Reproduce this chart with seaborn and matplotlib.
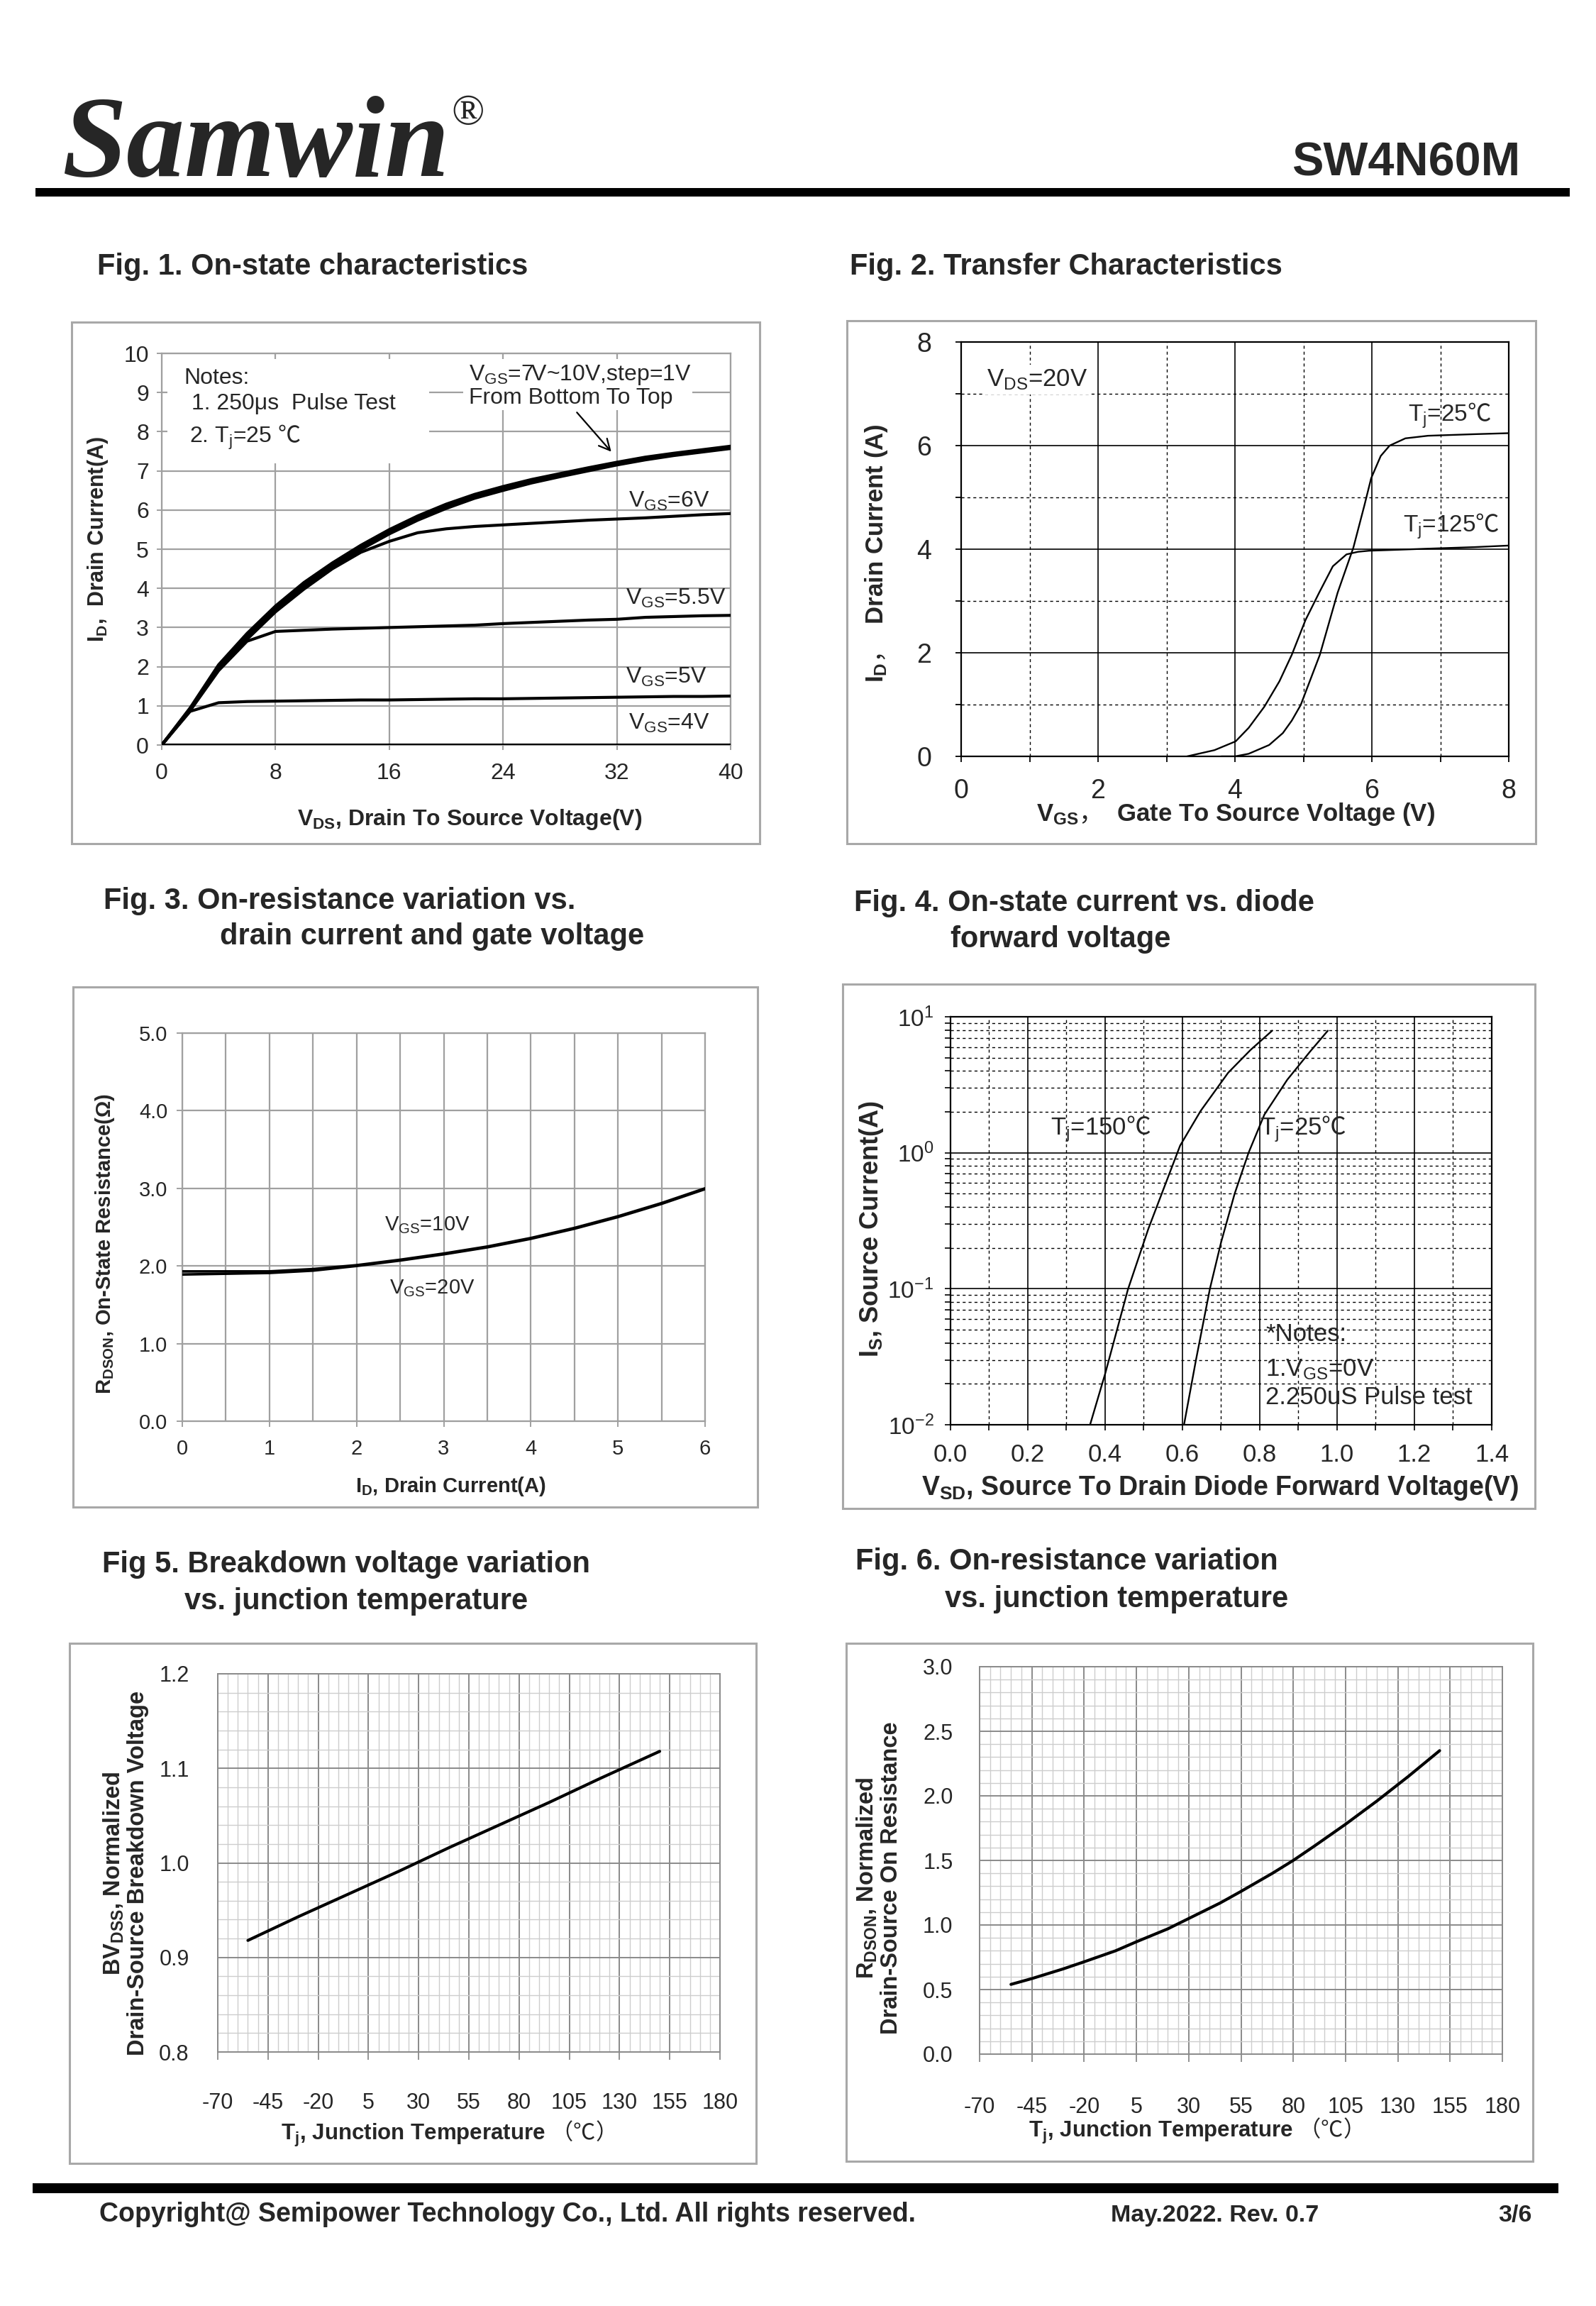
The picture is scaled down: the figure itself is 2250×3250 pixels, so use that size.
import numpy as np
import pandas as pd
import matplotlib
matplotlib.use('Agg')
import matplotlib.pyplot as plt
import seaborn as sns
from matplotlib.patches import Rectangle
from matplotlib.ticker import MultipleLocator, FixedLocator, NullFormatter, LogLocator

# --- Data ---
# Fig. 1 on-state characteristics
vds = [0, 2, 4, 6, 8, 10, 12, 14, 16, 18, 20, 22, 24, 26, 28, 30, 32, 34, 36, 38, 40]
id_10v = [0, 0.95, 2.05, 2.85, 3.55, 4.15, 4.65, 5.10, 5.50, 5.85, 6.15, 6.40, 6.60, 6.78, 6.93, 7.08, 7.22, 7.35, 7.45, 7.54, 7.63]
id_9v = [0, 0.93, 2.02, 2.82, 3.52, 4.12, 4.62, 5.07, 5.47, 5.82, 6.12, 6.37, 6.57, 6.75, 6.90, 7.05, 7.20, 7.33, 7.43, 7.52, 7.61]
id_8v = [0, 0.91, 1.98, 2.78, 3.48, 4.08, 4.58, 5.03, 5.43, 5.78, 6.08, 6.33, 6.53, 6.72, 6.87, 7.02, 7.17, 7.30, 7.41, 7.50, 7.59]
id_7v = [0, 0.89, 1.93, 2.72, 3.42, 4.03, 4.54, 4.99, 5.39, 5.74, 6.04, 6.30, 6.50, 6.69, 6.85, 7.00, 7.15, 7.28, 7.39, 7.48, 7.57]
id_6v = [0, 0.89, 1.93, 2.70, 3.40, 3.98, 4.50, 4.92, 5.20, 5.42, 5.52, 5.58, 5.62, 5.66, 5.70, 5.74, 5.77, 5.80, 5.84, 5.88, 5.91]
id_55v = [0, 0.88, 1.90, 2.65, 2.90, 2.93, 2.96, 2.98, 3.00, 3.02, 3.04, 3.06, 3.10, 3.13, 3.16, 3.19, 3.21, 3.26, 3.28, 3.30, 3.31]
id_5v = [0, 0.86, 1.08, 1.11, 1.12, 1.13, 1.14, 1.15, 1.15, 1.16, 1.17, 1.18, 1.18, 1.19, 1.20, 1.21, 1.22, 1.23, 1.24, 1.24, 1.25]
id_4v = [0, 0, 0, 0, 0, 0, 0, 0, 0, 0, 0, 0, 0, 0, 0, 0, 0, 0, 0, 0, 0]

# Fig. 2 transfer characteristics
vgs_25c = [3.8, 4.0, 4.2, 4.5, 4.7, 4.83, 4.96, 5.24, 5.5, 5.73, 5.89, 5.99, 6.13, 6.26, 6.49, 6.82, 7.49, 8.0]
id_25c = [0, 0.0, 0.05, 0.22, 0.45, 0.69, 0.99, 1.96, 3.16, 4.03, 4.84, 5.37, 5.80, 6.00, 6.14, 6.19, 6.22, 6.24]
vgs_125c = [3.3, 3.7, 4.01, 4.2, 4.43, 4.65, 4.83, 5.03, 5.23, 5.43, 5.63, 5.80, 5.96, 6.40, 6.82, 7.50, 8.0]
id_125c = [0, 0.12, 0.29, 0.55, 0.96, 1.45, 1.96, 2.63, 3.16, 3.67, 3.90, 3.95, 3.97, 3.99, 4.01, 4.04, 4.07]

# Fig. 3 on-resistance vs drain current
id_r = [0, 0.5, 1, 1.5, 2, 2.5, 3, 3.5, 4, 4.5, 5, 5.5, 6]
rds_10v = [1.93, 1.93, 1.93, 1.96, 2.01, 2.08, 2.16, 2.25, 2.36, 2.49, 2.64, 2.81, 3.00]
rds_20v = [1.89, 1.90, 1.91, 1.94, 2.00, 2.07, 2.15, 2.24, 2.35, 2.48, 2.63, 2.80, 2.99]
r_ticklabels = ['0.0', '1.0', '2.0', '3.0', '4.0', '5.0']

# Fig. 4 body diode forward characteristics
vsd_150c = [0.361, 0.40, 0.459, 0.512, 0.553, 0.594, 0.647, 0.718, 0.776, 0.832]
is_150c = [0.01, 0.0237, 0.099, 0.277, 0.56, 1.13, 2.03, 3.87, 5.7, 7.9]
vsd_25c = [0.604, 0.635, 0.671, 0.70, 0.735, 0.771, 0.812, 0.871, 0.929, 0.976]
is_25c = [0.01, 0.030, 0.10, 0.22, 0.50, 1.0, 1.91, 3.44, 5.5, 7.9]
is_ticks = [0.01, 0.1, 1, 10]
is_ticklabels = [r'$\mathregular{10^{-2}}$', r'$\mathregular{10^{-1}}$', r'$\mathregular{10^{0}}$', r'$\mathregular{10^{1}}$']
vsd_ticklabels = ['0.0', '0.2', '0.4', '0.6', '0.8', '1.0', '1.2', '1.4']

# Fig. 5 breakdown voltage vs Tj
tj_bv = [-55, -30, -5, 20, 45, 70, 95, 120, 150]
bv_norm = [0.918, 0.943, 0.967, 0.991, 1.016, 1.040, 1.064, 1.089, 1.118]
bv_ticklabels = ['0.8', '0.9', '1.0', '1.1', '1.2']

# Fig. 6 on-resistance vs Tj
tj_rds = [-55, -45, -30, -20, -5, 5, 20, 30, 45, 55, 70, 80, 90, 105, 120, 135, 150]
rds_norm = [0.54, 0.585, 0.66, 0.715, 0.80, 0.87, 0.97, 1.05, 1.17, 1.26, 1.40, 1.50, 1.61, 1.78, 1.96, 2.15, 2.35]
rn_ticklabels = ['0.0', '0.5', '1.0', '1.5', '2.0', '2.5', '3.0']
tj_ticks = [-70, -45, -20, 5, 30, 55, 80, 105, 130, 155, 180]

# --- Setup ---
sns.set_theme(style='white')
plt.rcParams['font.family'] = ['Liberation Sans', 'Noto Sans CJK SC', 'DejaVu Sans']
plt.rcParams['mathtext.fontset'] = 'custom'
plt.rcParams['mathtext.rm'] = 'Liberation Sans'
plt.rcParams['mathtext.it'] = 'Liberation Sans:italic'
plt.rcParams['mathtext.bf'] = 'Liberation Sans:bold'
plt.rcParams['mathtext.sf'] = 'Noto Sans CJK SC'
plt.rcParams['axes.unicode_minus'] = False

W, H = 2250, 3250
fig = plt.figure(figsize=(W / 100, H / 100), dpi=100)
fig.patch.set_facecolor('white')


def px_axes(x0, y0, x1, y1):
    return fig.add_axes([x0 / W, 1 - y1 / H, (x1 - x0) / W, (y1 - y0) / H])


def px_text(x, y, s, **kw):
    return fig.text(x / W, 1 - y / H, s, **kw)


def px_box(x0, y0, x1, y1, **kw):
    fig.add_artist(Rectangle((x0 / W, 1 - y1 / H), (x1 - x0) / W, (y1 - y0) / H,
                             transform=fig.transFigure, **kw))


def curve(ax, x, y, lw, **kw):
    sns.lineplot(x=x, y=y, ax=ax, color='black', linewidth=lw, estimator=None,
                 sort=False, legend=False, zorder=3, **kw)


BOX = dict(fill=False, edgecolor='#a8a8a8', lw=2.2)

# --- Header / footer ---
px_text(87, 248, 'Samwin', family='Liberation Serif', style='italic', weight='bold',
        fontsize=118, va='baseline')
px_text(636, 132, '®', family='Liberation Serif', fontsize=44, va='top')
px_text(2143, 248, 'SW4N60M', weight='bold', fontsize=48, ha='right', va='baseline')
px_box(50, 265, 2213, 277, facecolor='black', edgecolor='none')

px_box(46, 3077, 2197, 3091, facecolor='black', edgecolor='none')
px_text(140, 3131, 'Copyright@ Semipower Technology Co., Ltd. All rights reserved.',
        weight='bold', fontsize=27, va='baseline')
px_text(1566, 3131, 'May.2022. Rev. 0.7', weight='bold', fontsize=24.5, va='baseline')
px_text(2160, 3131, '3/6', weight='bold', fontsize=24.5, va='baseline', ha='right')

# --- Titles ---
TT = dict(weight='bold', fontsize=30, va='baseline')
px_text(137, 387, 'Fig. 1. On-state characteristics', **TT)
px_text(1198, 387, 'Fig. 2. Transfer Characteristics', **TT)
px_text(146, 1281, 'Fig. 3. On-resistance variation vs.', **TT)
px_text(310, 1331, 'drain current and gate voltage', **TT)
px_text(1204, 1284, 'Fig. 4. On-state current vs. diode', **TT)
px_text(1340, 1335, 'forward voltage', **TT)
px_text(144, 2216, 'Fig 5. Breakdown voltage variation', **TT)
px_text(260, 2268, 'vs. junction temperature', **TT)
px_text(1206, 2212, 'Fig. 6. On-resistance variation', **TT)
px_text(1332, 2265, 'vs. junction temperature', **TT)

# --- Frames ---
px_box(101, 454, 1071, 1189, **BOX)
px_box(1194, 452, 2165, 1189, **BOX)
px_box(103, 1391, 1068, 2124, **BOX)
px_box(1188, 1387, 2164, 2126, **BOX)
px_box(98, 2316, 1066, 3049, **BOX)
px_box(1193, 2316, 2161, 3046, **BOX)

# --- Fig. 1 ---
GRAY = '#a0a0a0'
ax1 = px_axes(228, 498, 1030, 1050)
ax1.set_axisbelow(True)
ax1.grid(True, color=GRAY, lw=1.6)
for s in ax1.spines.values():
    s.set_color(GRAY)
    s.set_linewidth(1.6)
ax1.add_patch(Rectangle((0.4, 7.2), 18.4, 2.65, facecolor='white', edgecolor='none', zorder=1))
ax1.add_patch(Rectangle((21.2, 8.55), 16.1, 1.3, facecolor='white', edgecolor='none', zorder=1))
for ys in [id_7v, id_8v, id_9v, id_10v]:
    curve(ax1, vds, ys, 3.0)
for ys in [id_6v, id_55v, id_5v, id_4v]:
    curve(ax1, vds, ys, 3.0)
ax1.set_xlim(0, 40)
ax1.set_ylim(0, 10)
ax1.xaxis.set_major_locator(MultipleLocator(8))
ax1.yaxis.set_major_locator(MultipleLocator(1))
ax1.tick_params(axis='both', labelsize=23, length=5, width=1.4, color=GRAY, left=True, bottom=True)
ax1.tick_params(axis='y', pad=8)
ax1.tick_params(axis='x', pad=13)
ax1.set_xlabel('')
ax1.set_ylabel('')
T1 = dict(fontsize=23, va='center', zorder=4)
ax1.text(1.55, 9.37, 'Notes:', **T1)
ax1.text(2.1, 8.71, '1. 250μs  Pulse Test', **T1)
ax1.text(1.95, 7.86, r'2. T$_{\mathregular{j}}$=25 $\mathsf{℃}$', **T1)
ax1.text(21.6, 9.44, r'V$_{\mathregular{GS}}$=7V~10V,step=1V', **T1)
ax1.text(21.6, 8.86, 'From Bottom To Top', **T1)
ax1.annotate('', xy=(31.7, 7.45), xytext=(29.1, 8.53),
             arrowprops=dict(arrowstyle='->', lw=1.6, color='black', mutation_scale=28))
ax1.text(32.8, 6.23, r'V$_{\mathregular{GS}}$=6V', **T1)
ax1.text(32.6, 3.75, r'V$_{\mathregular{GS}}$=5.5V', **T1)
ax1.text(32.6, 1.74, r'V$_{\mathregular{GS}}$=5V', **T1)
ax1.text(32.8, 0.56, r'V$_{\mathregular{GS}}$=4V', **T1)
px_text(138, 760, r'I$_{\mathregular{D}}$,  Drain Current(A)', weight='bold', fontsize=22,
        rotation=90, ha='center', va='center')
px_text(662, 1155, r'V$_{\mathregular{DS}}$, Drain To Source Voltage(V)', weight='bold',
        fontsize=23, ha='center', va='center')

# --- Fig. 2 ---
ax2 = px_axes(1355, 482, 2127, 1066)
ax2.set_axisbelow(True)
ax2.xaxis.set_major_locator(MultipleLocator(2))
ax2.xaxis.set_minor_locator(MultipleLocator(1))
ax2.yaxis.set_major_locator(MultipleLocator(2))
ax2.yaxis.set_minor_locator(MultipleLocator(1))
ax2.grid(True, which='major', color='black', lw=1.2)
ax2.grid(True, which='minor', color='black', lw=1.0, ls=(0, (3, 3)))
for s in ax2.spines.values():
    s.set_color('black')
    s.set_linewidth(1.6)
curve(ax2, vgs_25c, id_25c, 1.7)
curve(ax2, vgs_125c, id_125c, 1.7)
ax2.set_xlim(0, 8)
ax2.set_ylim(0, 8)
ax2.tick_params(axis='both', which='both', length=6, width=1.3, color='black', left=True, bottom=True)
ax2.tick_params(axis='both', which='major', labelsize=27)
ax2.tick_params(axis='y', pad=24)
ax2.tick_params(axis='x', pad=16)
ax2.set_xlabel('')
ax2.set_ylabel('')
ax2.text(0.37, 7.27, r'V$_{\mathregular{DS}}$=20V', fontsize=25, va='center', zorder=4,
         bbox=dict(facecolor='white', edgecolor='none', pad=3))
ax2.text(7.74, 6.58, r'T$_{\mathregular{j}}$=25$\mathsf{℃}$', fontsize=24, va='center', ha='right')
ax2.text(7.86, 4.44, r'T$_{\mathregular{j}}$=125$\mathsf{℃}$', fontsize=24, va='center', ha='right')
px_text(1236, 780, r'I$_{\mathregular{D}}\mathsf{，}$  Drain Current (A)', weight='bold',
        fontsize=25, rotation=90, ha='center', va='center')
px_text(1742, 1147, r'V$_{\mathregular{GS}}\mathsf{，}$  Gate To Source Voltage (V)', weight='bold',
        fontsize=25, ha='center', va='center')

# --- Fig. 3 ---
ax3 = px_axes(257, 1456, 994, 2003)
ax3.set_axisbelow(True)
ax3.xaxis.set_major_locator(MultipleLocator(1))
ax3.xaxis.set_minor_locator(MultipleLocator(0.5))
ax3.yaxis.set_major_locator(FixedLocator([0, 1, 2, 3, 4, 5]))
ax3.set_yticklabels(r_ticklabels)
ax3.grid(True, which='major', color=GRAY, lw=1.6)
ax3.grid(True, which='minor', axis='x', color=GRAY, lw=1.6)
for s in ax3.spines.values():
    s.set_color(GRAY)
    s.set_linewidth(1.6)
curve(ax3, id_r, rds_10v, 2.6)
curve(ax3, id_r, rds_20v, 2.6)
ax3.set_xlim(0, 6)
ax3.set_ylim(0, 5)
ax3.tick_params(axis='both', which='major', labelsize=21, length=6, width=1.4, color=GRAY,
                left=True, bottom=True)
ax3.tick_params(axis='both', which='minor', length=0)
ax3.tick_params(axis='y', pad=9)
ax3.tick_params(axis='x', pad=12)
ax3.set_xlabel('')
ax3.set_ylabel('')
ax3.text(2.32, 2.53, r'V$_{\mathregular{GS}}$=10V', fontsize=21, va='center')
ax3.text(2.38, 1.71, r'V$_{\mathregular{GS}}$=20V', fontsize=21, va='center')
px_text(148, 1753, r'R$_{\mathregular{DSON}}$, On-State Resistance(Ω)', weight='bold',
        fontsize=21, rotation=90, ha='center', va='center')
px_text(635, 2095, r'I$_{\mathregular{D}}$, Drain Current(A)', weight='bold', fontsize=21,
        ha='center', va='center')

# --- Fig. 4 ---
ax4 = px_axes(1340, 1433, 2103, 2008)
ax4.set_yscale('log')
ax4.set_axisbelow(True)
curve(ax4, vsd_150c, is_150c, 1.7)
curve(ax4, vsd_25c, is_25c, 1.7)
ax4.set_xlim(0, 1.4)
ax4.set_ylim(0.01, 10)
ax4.xaxis.set_major_locator(FixedLocator([0, 0.2, 0.4, 0.6, 0.8, 1.0, 1.2, 1.4]))
ax4.set_xticklabels(vsd_ticklabels)
ax4.xaxis.set_minor_locator(MultipleLocator(0.1))
ax4.yaxis.set_major_locator(FixedLocator(is_ticks))
ax4.set_yticklabels(is_ticklabels)
ax4.yaxis.set_minor_locator(LogLocator(base=10, subs=np.arange(2, 10)))
ax4.yaxis.set_minor_formatter(NullFormatter())
ax4.grid(True, which='major', color='black', lw=1.2)
ax4.grid(True, which='minor', color='black', lw=1.0, ls=(0, (3, 3)))
for s in ax4.spines.values():
    s.set_color('black')
    s.set_linewidth(1.6)
ax4.tick_params(axis='both', which='both', length=6, width=1.2, color='black', left=True, bottom=True)
ax4.tick_params(axis='x', which='major', labelsize=25, pad=13)
ax4.tick_params(axis='y', which='major', labelsize=24, pad=11)
ax4.set_xlabel('')
ax4.set_ylabel('')
ax4.text(0.258, 1.5, r'T$_{\mathregular{j}}$=150$\mathsf{℃}$', fontsize=25, va='center')
ax4.text(0.80, 1.5, r'T$_{\mathregular{j}}$=25$\mathsf{℃}$', fontsize=25, va='center')
ax4.text(0.815, 0.046, '*Notes:', fontsize=25, va='center')
ax4.text(0.815, 0.0255, r'1.V$_{\mathregular{GS}}$=0V', fontsize=25, va='center')
ax4.text(0.815, 0.0158, '2.250uS Pulse test', fontsize=25, va='center')
px_text(1228, 1732, r'I$_{\mathregular{S}}$, Source Current(A)', weight='bold', fontsize=26,
        rotation=90, ha='center', va='center')
px_text(1720, 2097, r'V$_{\mathregular{SD}}$, Source To Drain Diode Forward Voltage(V)',
        weight='bold', fontsize=27, ha='center', va='center')

# --- Fig. 5 & 6 (fine graph paper style) ---
MAJ, MIN = '#8a8a8a', '#cdcdcd'


def paper_axes(ax, ymaj, ymin, ypad, xpad):
    ax.set_axisbelow(True)
    ax.set_xlim(-70, 180)
    ax.xaxis.set_major_locator(FixedLocator(tj_ticks))
    ax.xaxis.set_minor_locator(MultipleLocator(5))
    ax.yaxis.set_major_locator(MultipleLocator(ymaj))
    ax.yaxis.set_minor_locator(MultipleLocator(ymin))
    ax.grid(True, which='minor', color=MIN, lw=1.0)
    ax.grid(True, which='major', color=MAJ, lw=1.4)
    for s in ax.spines.values():
        s.set_color(MAJ)
        s.set_linewidth(1.4)
    ax.tick_params(axis='x', which='major', length=8, width=1.3, color=MAJ, bottom=True,
                   labelsize=22, pad=xpad)
    ax.tick_params(axis='y', which='major', length=0, labelsize=22, pad=ypad)
    ax.tick_params(axis='both', which='minor', length=0)
    ax.set_xlabel('')
    ax.set_ylabel('')


ax5 = px_axes(307, 2359, 1015, 2892)
curve(ax5, tj_bv, bv_norm, 3.0)
ax5.set_ylim(0.8, 1.2)
paper_axes(ax5, 0.1, 0.02, 29, 33)
ax5.yaxis.set_major_locator(FixedLocator([0.8, 0.9, 1.0, 1.1, 1.2]))
ax5.set_yticklabels(bv_ticklabels)
px_text(177, 2640, 'BV$_{\\mathregular{DSS}}$, Normalized\nDrain-Source Breakdown Voltage',
        weight='bold', fontsize=23.5, rotation=90, ha='center', va='center',
        multialignment='center', linespacing=1.1)
px_text(623, 3007, r'T$_{\mathregular{j}}$, Junction Temperature $\mathsf{（℃）}$',
        weight='bold', fontsize=22.5, ha='center', va='center')

ax6 = px_axes(1381, 2349, 2118, 2895)
curve(ax6, tj_rds, rds_norm, 3.0)
ax6.set_ylim(0, 3.0)
paper_axes(ax6, 0.5, 0.1, 27, 35)
ax6.yaxis.set_major_locator(FixedLocator([0, 0.5, 1.0, 1.5, 2.0, 2.5, 3.0]))
ax6.set_yticklabels(rn_ticklabels)
px_text(1239, 2647, 'R$_{\\mathregular{DSON}}$, Normalized\nDrain-Source On Resistance',
        weight='bold', fontsize=23.5, rotation=90, ha='center', va='center',
        multialignment='center', linespacing=1.1)
px_text(1677, 3003, r'T$_{\mathregular{j}}$, Junction Temperature $\mathsf{（℃）}$',
        weight='bold', fontsize=22.5, ha='center', va='center')

fig.savefig('out.png', dpi=100, facecolor='white')
plt.close(fig)
